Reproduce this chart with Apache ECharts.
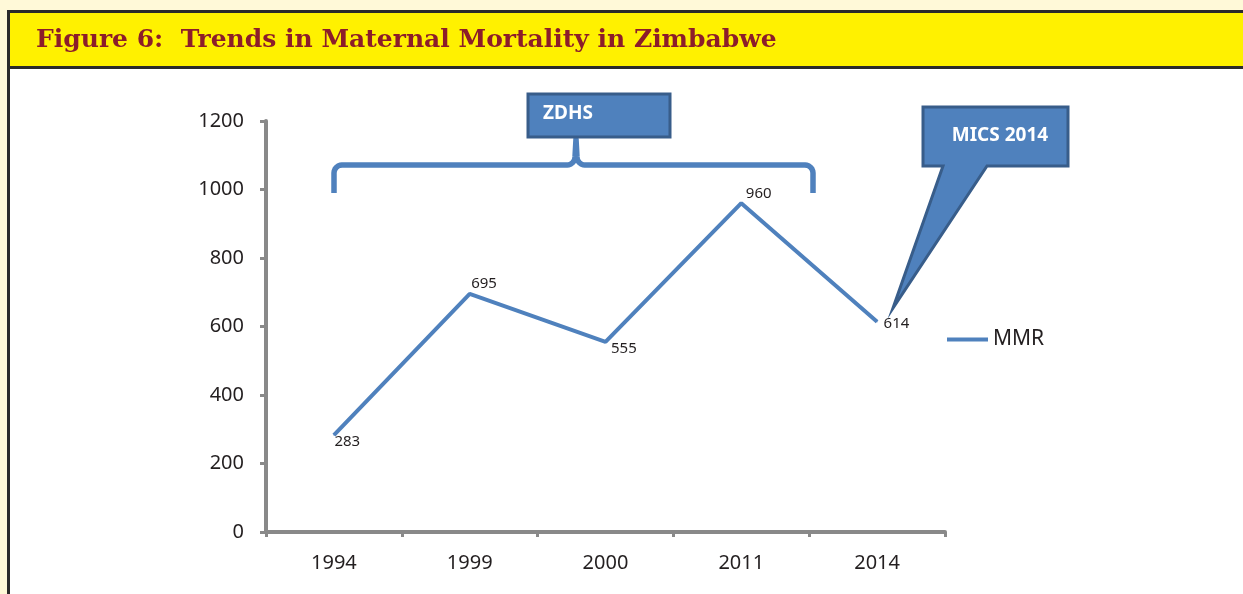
<!DOCTYPE html>
<html><head><meta charset="utf-8">
<script src="https://cdn.jsdelivr.net/npm/echarts@6/dist/echarts.min.js"></script>
<style>html,body{margin:0;padding:0;background:#fff9d8;}#c{width:1243px;height:594px;}</style>
</head><body><div id="c"></div>
<script>
const years = ['1994', '1999', '2000', '2011', '2014'];
const mmr = [283, 695, 555, 960, 614];
const yTicks = [0, 200, 400, 600, 800, 1000, 1200];
const labelOffsets = [[-5, 7], [-4, -10], [0, 7], [-1, -9], [1, 2]];

const chart = echarts.init(document.getElementById('c'), null, {renderer: 'canvas'});
const BLUE = '#4f81bd', DARKBLUE = '#385d8a', AXIS = '#898989', TXT = '#231f20';

function corner(cx, cy, r, a0, a1, n) {
  const pts = [];
  for (let k = 0; k <= n; k++) {
    const a = a0 + (a1 - a0) * k / n;
    pts.push([cx + r * Math.cos(a), cy + r * Math.sin(a)]);
  }
  return pts;
}
const r = 8;
const bracePts = [].concat(
  [[334, 193]],
  corner(334 + r, 165 + r, r, Math.PI, 1.5 * Math.PI, 6),
  [[567, 165]],
  corner(567, 165 - r, r, 0.5 * Math.PI, 0, 6),
  [[576, 139]],
  corner(585, 165 - r, r, Math.PI, 0.5 * Math.PI, 6),
  [[813 - r, 165]],
  corner(813 - r, 165 + r, r, 1.5 * Math.PI, 2 * Math.PI, 6),
  [[813, 193]]
);

const option = {
  backgroundColor: '#fff9d8',
  animation: false,
  title: {
    text: 'Figure 6:  Trends in Maternal Mortality in Zimbabwe',
    left: 31, top: 23,
    textStyle: {fontFamily: 'DejaVu Serif', fontWeight: 'bold', fontSize: 25, color: '#8c1d2a'}
  },
  graphic: [
    {type: 'rect', z: -10, shape: {x: 7, y: 10, width: 1240, height: 590}, style: {fill: '#2a2a2a'}},
    {type: 'rect', z: -9, shape: {x: 10, y: 13, width: 1240, height: 53}, style: {fill: '#fff100'}},
    {type: 'rect', z: -9, shape: {x: 10, y: 69, width: 1240, height: 530}, style: {fill: '#ffffff'}},
    {type: 'polyline', z: 10, shape: {points: bracePts},
      style: {fill: null, stroke: BLUE, lineWidth: 5.5, lineJoin: 'round'}},
    {type: 'rect', z: 11, shape: {x: 528, y: 94, width: 142, height: 43}, style: {fill: BLUE, stroke: DARKBLUE, lineWidth: 3}},
    {type: 'text', z: 12, style: {x: 543, y: 114, text: 'ZDHS', fill: '#ffffff', font: 'bold 19px "Noto Sans"', verticalAlign: 'middle'}},
    {type: 'polygon', z: 11, shape: {points: [[923,107],[1068,107],[1068,166],[987,166],[893,308],[943,166],[923,166]]},
      style: {fill: BLUE, stroke: DARKBLUE, lineWidth: 3, lineJoin: 'miter'}},
    {type: 'text', z: 12, style: {x: 1000, y: 136, text: 'MICS 2014', fill: '#ffffff', font: 'bold 19px "Noto Sans"', align: 'center', verticalAlign: 'middle'}}
  ],
  grid: {left: 266, right: 298, top: 121, bottom: 62},
  legend: {
    data: ['MMR'], left: 947, top: 329, padding: 0, icon: 'rect', itemWidth: 41, itemHeight: 4, itemGap: 5,
    textStyle: {fontFamily: 'Noto Sans', fontSize: 21, color: TXT}
  },
  xAxis: {
    type: 'category', data: years, boundaryGap: true,
    axisLine: {lineStyle: {color: AXIS, width: 4}},
    axisTick: {show: true, length: 5, lineStyle: {color: AXIS, width: 3}},
    axisLabel: {margin: 21, fontFamily: 'Noto Sans', fontSize: 20, color: TXT}
  },
  yAxis: {
    type: 'value', min: yTicks[0], max: yTicks[yTicks.length - 1], interval: yTicks[1] - yTicks[0],
    axisLine: {show: true, lineStyle: {color: AXIS, width: 4}},
    axisTick: {show: true, length: 6, lineStyle: {color: AXIS, width: 3}},
    splitLine: {show: false},
    axisLabel: {margin: 22, fontFamily: 'Noto Sans', fontSize: 20, color: TXT, formatter: v => String(v)}
  },
  series: [{
    name: 'MMR', type: 'line', data: mmr.map((v, i) => ({
      value: v,
      label: {position: 'right', offset: labelOffsets[i]}
    })),
    symbol: 'circle', symbolSize: 1, showSymbol: true,
    itemStyle: {color: BLUE},
    lineStyle: {color: BLUE, width: 4},
    label: {show: true, fontFamily: 'Noto Sans', fontSize: 15, color: TXT, distance: 5}
  }]
};
chart.setOption(option);
</script>
</body></html>
